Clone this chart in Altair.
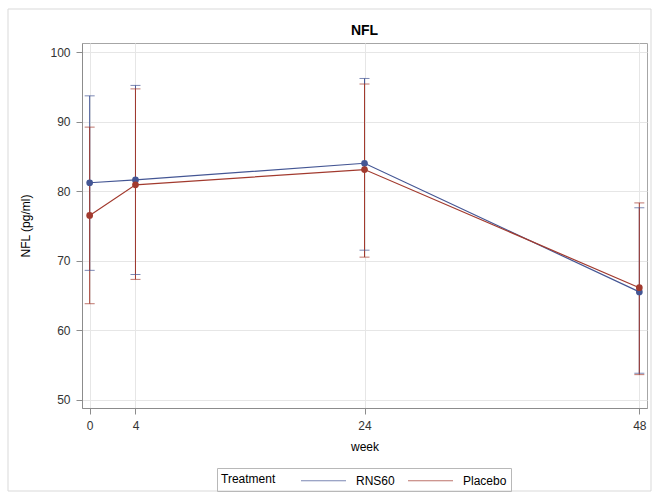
import altair as alt
import pandas as pd

# ---- data ----
weeks = [0, 4, 24, 48]
treatments = ["RNS60", "Placebo"]
rns60_mean = [81.2, 81.6, 84.0, 65.5]
rns60_lower = [68.6, 68.0, 71.5, 53.8]
rns60_upper = [93.7, 95.2, 96.2, 77.6]
placebo_mean = [76.5, 80.9, 83.1, 66.1]
placebo_lower = [63.8, 67.3, 70.5, 53.6]
placebo_upper = [89.2, 94.7, 95.4, 78.3]
y_ticks = [50, 60, 70, 80, 90, 100]
x_ticks = [0, 4, 24, 48]
colors = ["#445694", "#A23A2E"]

rows = []
for trt, means, lows, ups in [
    ("RNS60", rns60_mean, rns60_lower, rns60_upper),
    ("Placebo", placebo_mean, placebo_lower, placebo_upper),
]:
    for w, m, lo, up in zip(weeks, means, lows, ups):
        rows.append({"Treatment": trt, "week": w, "mean": m, "lower": lo, "upper": up})
df = pd.DataFrame(rows)

FONT = "Liberation Sans"

xscale = alt.Scale(domain=[-0.67, 48.67], nice=False, zero=False)
yscale = alt.Scale(domain=[48.8, 101.3], nice=False, zero=False)
cscale = alt.Scale(domain=treatments, range=colors)

xax = alt.Axis(values=x_ticks, title="week", format="d")
yax = alt.Axis(values=y_ticks, title="NFL (pg/ml)", format="d")

legend = alt.Legend(
    title="Treatment",
    orient="none",
    legendX=135,
    legendY=425,
    direction="horizontal",
    titleOrient="left",
    titleBaseline="middle",
    symbolType="M-3,0H3",
    symbolSize=225,
    symbolStrokeWidth=1.2,
    strokeColor="#b8b8b8",
    padding=4,
    labelFontSize=12,
    titleFontSize=12,
    titleFontWeight="normal",
    titleColor="#000000",
    labelColor="#000000",
    titlePadding=39,
    columnPadding=10,
    labelOffset=24,
)
color = alt.Color("Treatment:N", scale=cscale, legend=legend)

base = alt.Chart(df)

frame = alt.Chart(pd.DataFrame({"k": [0]})).mark_rect(
    fill="transparent", stroke="#d9d9d9", strokeWidth=1, clip=False
).encode(
    x=alt.value(-74), x2=alt.value(569), y=alt.value(-34), y2=alt.value(448)
)

rules = base.mark_rule(strokeWidth=1).encode(
    x=alt.X("week:Q", scale=xscale, axis=xax),
    y=alt.Y("lower:Q", scale=yscale, axis=yax),
    y2="upper:Q",
    color=color,
)

caps = base.transform_fold(["lower", "upper"], as_=["bound", "val"]).mark_tick(
    orient="horizontal", size=10, thickness=1
).encode(
    x=alt.X("week:Q", scale=xscale),
    y=alt.Y("val:Q", scale=yscale),
    color=color,
)

lines = base.mark_line(strokeWidth=1.2).encode(
    x=alt.X("week:Q", scale=xscale),
    y=alt.Y("mean:Q", scale=yscale),
    color=color,
    detail="Treatment:N",
)

points = base.mark_circle(size=45, opacity=1).encode(
    x=alt.X("week:Q", scale=xscale),
    y=alt.Y("mean:Q", scale=yscale),
    color=color,
)

chart = (
    alt.layer(frame, rules, caps, lines, points)
    .properties(
        width=565,
        height=365,
        autosize=alt.AutoSizeParams(type="none"),
        padding={"left": 82, "top": 43, "right": 7, "bottom": 87},
        title=alt.TitleParams(
            "NFL", fontSize=14, fontWeight="bold", offset=8, dy=37,
            anchor="middle", color="#000000", font=FONT
        ),
    )
    .configure(font=FONT, background="white")
    .configure_view(stroke="#a6a6a6", strokeWidth=1)
    .configure_axis(
        gridColor="#e6e6e6",
        gridWidth=1,
        domainColor="#8c8c8c",
        tickColor="#8c8c8c",
        tickSize=6,
        labelFontSize=12,
        labelColor="#333333",
        labelPadding=6,
        titleFontSize=12,
        titleFontWeight="normal",
        titleColor="#000000",
    )
    .configure_axisY(titlePadding=17)
    .configure_axisX(titlePadding=10)
)

chart.save("out.html", embed_options={"renderer": "svg", "actions": False})
